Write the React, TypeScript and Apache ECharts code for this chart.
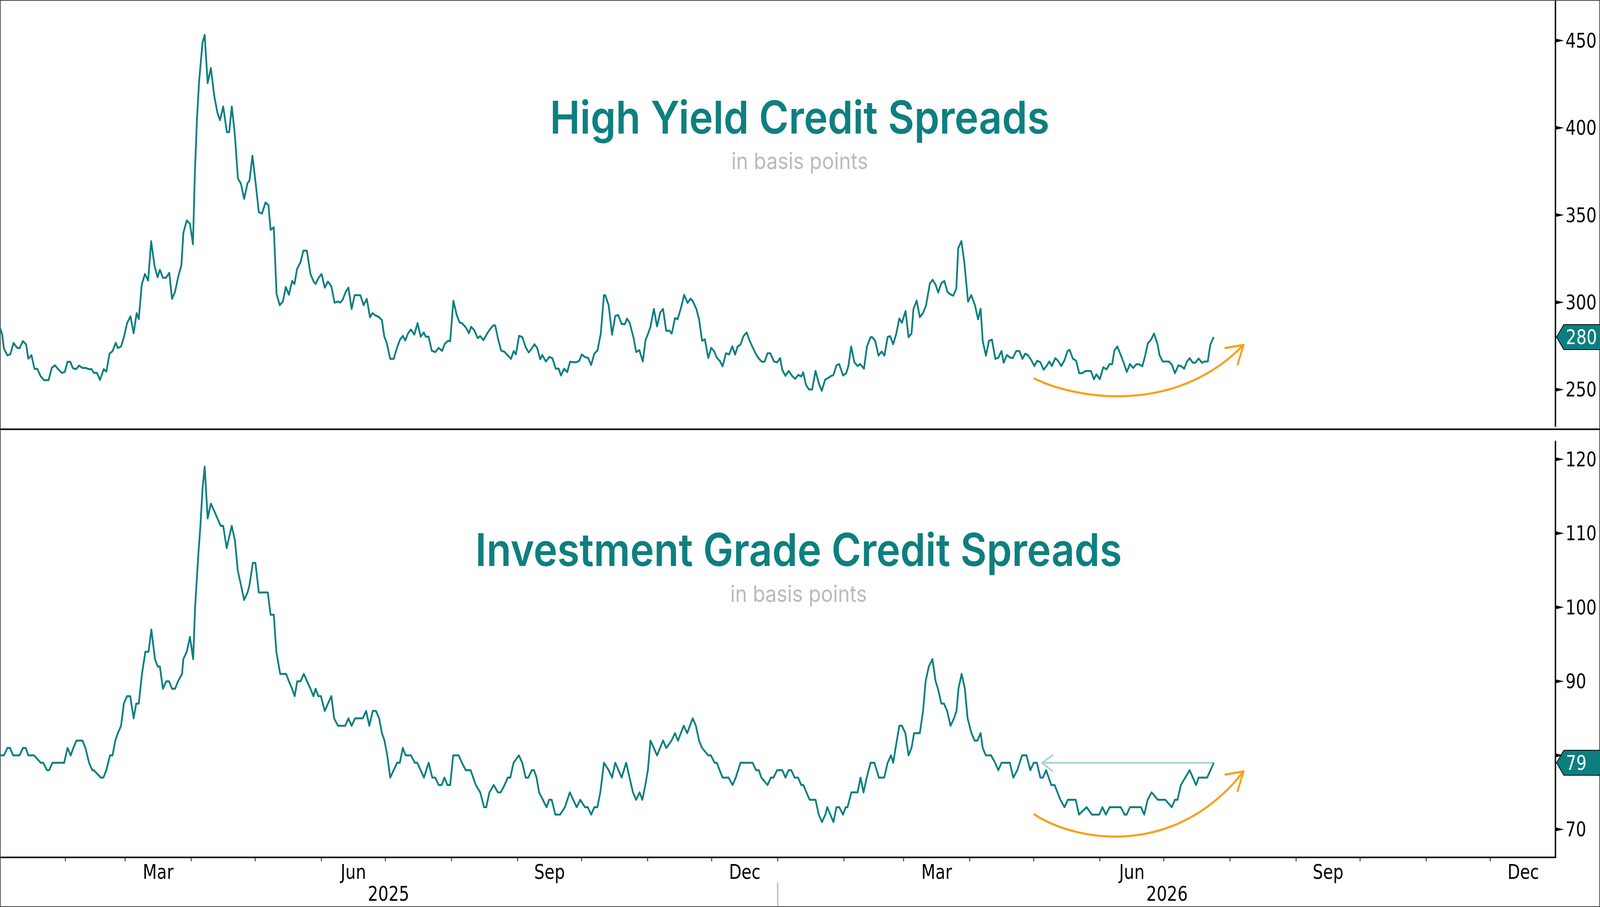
import React, { useEffect, useRef } from "react";
import * as echarts from "echarts";

const T0 = Date.UTC(2025, 0, 1);
const DAY = 86400000;
const REF_W = 4596;
const REF_H = 2322;

// High Yield spreads (day offset from 2025-01-01, value in bp)
const hyDays = [
  0.3, 1.3, 2.2, 3.8, 5.2, 6.7, 8.3, 9.5, 11.1, 12.6, 13.6, 15.1, 16.5, 17.8, 19.4, 21, 23.1, 24.6, 26.1, 27.6,
  29.3, 30.7, 32, 33.3, 34.5, 36, 37.4, 39, 40.6, 42.1, 43.3, 44.3, 45.8, 47.2, 49, 50.2, 51.7, 53.1, 54.6, 55.6,
  57.1, 58.5, 59.9, 61.5, 63, 64.4, 65.4, 66.8, 68.3, 69.8, 71.2, 72.8, 74.2, 75.3, 76.7, 78.2, 79.7, 81, 82.4, 83.8,
  85.4, 86.3, 87.9, 89.4, 90.8, 91.7, 92.7, 93.7, 95.3, 96.3, 97.7, 99.2, 100.8, 102.3, 103.5, 105, 106.7, 107.8, 109, 110.4,
  111.9, 113.3, 114.8, 116.4, 117.3, 118.7, 120.2, 121.7, 123.2, 124.8, 126.2, 127.2, 128.7, 130, 131.5, 133, 134.3, 135.8, 137.3, 138.4,
  139.6, 141.2, 142.6, 144.2, 145.9, 147.4, 148.3, 149.7, 151.1, 152.6, 154.1, 155.7, 157.2, 158.8, 159.8, 161, 162.5, 163.7, 165.2, 166.6,
  168, 169.3, 170.8, 172.3, 173.8, 175, 176.5, 177.9, 179.4, 180.5, 181.6, 183.3, 184.9, 186.5, 187.8, 189.2, 190.3, 191.7, 193, 194.6,
  196.1, 197.6, 199, 200, 201.3, 202.8, 204.4, 206, 207.6, 208.9, 210.5, 211.4, 212.9, 214.5, 215.8, 217, 218.8, 220.2, 221.2, 222.7,
  224.3, 225.5, 227, 228.6, 230, 231.6, 232.5, 233.9, 235.3, 236.8, 238.4, 239.9, 241.2, 242.2, 243.7, 245.2, 246.8, 248.2, 249.7, 250.9,
  252.2, 253.6, 254.6, 256.3, 257.8, 259.3, 260.9, 262.3, 263.3, 264.8, 266.3, 267.6, 269.1, 270.6, 271.9, 273.1, 274.6, 276.1, 277.5, 278.9,
  280.5, 282, 283.5, 284.1, 285.7, 287.3, 288.8, 290.2, 291.8, 293.3, 294.3, 295.6, 297.4, 298.6, 300.1, 301.7, 303, 304.2, 305.3, 306.9,
  308.4, 309.9, 311.2, 312.7, 314.2, 315.3, 316.8, 318, 319.5, 321.1, 322.7, 324.1, 325.1, 326.8, 328.1, 329.5, 330.8, 332.4, 333.8, 335.2,
  336.4, 337.9, 339.1, 340.7, 342.2, 343.7, 345, 346.1, 347.5, 348.9, 350.4, 351.8, 353.2, 354.8, 356.1, 357.5, 358.8, 360.2, 361.5, 363.2,
  364.7, 366.1, 367.1, 368.6, 370.1, 371.7, 373.1, 374.6, 376, 376.9, 378.2, 379.6, 381.1, 382.7, 384.3, 385.6, 387.2, 388.8, 390.1, 391.1,
  392.5, 393.8, 395.6, 397.1, 398.1, 399.4, 400.9, 402.4, 403.6, 405.4, 406.8, 408.5, 409.4, 410.7, 412.2, 413.7, 415, 416.5, 417.7, 419.1,
  420.5, 422, 423.2, 424.9, 426.3, 427.7, 428.6, 430.1, 431.6, 433.1, 434.5, 436.3, 437.6, 439, 440.2, 441.7, 443.1, 444.6, 446, 447.3,
  448.7, 449.6, 451.1, 452.5, 454.2, 455.7, 457.4, 458.9, 460.1, 461.1, 462.6, 464, 465.4, 467, 468.4, 469.9, 470.9, 472.4, 474, 475.2,
  476.8, 478.3, 479.7, 481, 482.2, 483.7, 485.3, 486.6, 488.1, 489.6, 491, 492.3, 493.5, 495.1, 496.4, 497.9, 499.4, 500.9, 501.8, 503.3,
  504.9, 506.3, 507.7, 509, 510.4, 511.9, 513.2, 514.4, 516, 517.6, 519.1, 520.5, 521.8, 522.8, 524.2, 525.8, 527.3, 528.6, 530.1, 531.6,
  533.2, 534.6, 535.9, 537.1, 538.5, 539.9, 541.4, 543, 544, 545.5, 546.7, 548.3, 549.8, 551.2, 552.8, 554.3, 555.5, 556.9, 558.1, 559.6,
  560.8, 562.3, 563.9, 565.1, 566.6, 567.8, 569.4,
];
const hyValues = [
  285.5, 282, 273.4, 269.6, 270.3, 276.7, 274, 273.7, 277.8, 275.8, 267.7, 269.7, 261.9, 261.9, 257.6, 255.4, 255.4, 262.4, 263.9, 261.7,
  259.6, 260.1, 265.9, 265.9, 262.3, 261.7, 263.7, 262.4, 262.4, 261.7, 261.7, 259.6, 259.6, 255.6, 261.7, 260.3, 270.6, 272, 276.8, 273.8,
  274.7, 280.3, 288, 292, 282.3, 293.8, 290.4, 310.2, 316.2, 312.5, 335, 320.9, 314.4, 318.6, 314.1, 314.1, 316.9, 302, 306, 314.1,
  321.5, 339.8, 346.9, 345, 333.3, 374, 405.4, 426.8, 448.9, 453.2, 425.6, 434.2, 418.2, 408.5, 404.4, 412.2, 397.5, 397.5, 412.2, 396.8,
  370.9, 368, 359.3, 368.3, 369.7, 384, 368.3, 351.6, 350.9, 357.2, 355.7, 341.5, 343, 304.8, 298.4, 300.5, 308.8, 304.4, 312.2, 310.5,
  319.1, 322.9, 329.6, 329.6, 316.2, 311.9, 310.5, 314.1, 316.2, 308.4, 311.9, 309.1, 299.8, 300.5, 299.8, 301.5, 306.2, 308.4, 296.2, 304.1,
  304.1, 304.1, 298.4, 302, 291.5, 293.8, 292.4, 291.7, 289.8, 280.5, 277, 267.6, 267.6, 274.1, 278.4, 280.8, 278.1, 282.3, 284.4, 281.5,
  288.1, 280.3, 282.7, 280.3, 280.3, 272.2, 271.5, 273.9, 272.2, 276.3, 278, 277.7, 300.9, 292.6, 288.5, 288, 285.5, 282.3, 286, 284,
  279.5, 280.6, 278.3, 281.8, 284.5, 286.8, 286.8, 278.8, 272.3, 271.7, 269.6, 267.6, 272.1, 270.2, 280.8, 280.1, 274.3, 271.3, 273.6, 276,
  273.8, 267.4, 269.8, 266.1, 268.7, 268, 262, 262, 258.1, 261.9, 260.1, 266, 265.7, 265.7, 266.5, 270.1, 268.7, 268.1, 264.1, 270.4,
  272.6, 282.1, 304.1, 304.1, 298.3, 281.5, 292.2, 292.7, 287.5, 287.5, 290.7, 288.1, 279.5, 271.5, 272.6, 266.1, 278.4, 282.1, 285.9, 296.2,
  286.2, 294.2, 296.2, 283.6, 283.8, 282.1, 291, 290.3, 296.3, 304.3, 299.7, 302.1, 300.8, 296.3, 290.3, 278, 278.8, 268.1, 273.9, 271.9,
  268.3, 266.3, 263.3, 270.8, 270.2, 274.8, 270.1, 274.5, 275.8, 280.6, 282.7, 278, 274.3, 270.2, 267.8, 266, 266, 270.8, 270.8, 266.1,
  265.6, 268.1, 261.3, 257.9, 260.7, 257.9, 256.2, 258.4, 257.5, 259.9, 252.7, 250.1, 250.1, 260.7, 253.4, 249.3, 255.7, 256.8, 257.9, 258.3,
  263.9, 264.6, 258.1, 259.4, 263.5, 274.7, 265.7, 263.5, 264.6, 262, 274.7, 280.1, 279.9, 277.8, 269.5, 271.8, 269.5, 280.1, 280.6, 276,
  281.8, 290.7, 288.3, 295, 280.1, 282.1, 296.1, 301, 291.5, 293.9, 298.2, 310.8, 312.9, 310.1, 305.6, 311, 312.2, 305.9, 304.5, 303.8,
  307.9, 331, 335.1, 322.4, 300.4, 304.1, 298.5, 290.3, 296.3, 277.7, 269.5, 278, 278.6, 267.6, 268.3, 272.1, 265.4, 269.8, 268.3, 268.1,
  272.1, 272.1, 267.6, 270.6, 269.8, 267.2, 263.5, 266.5, 265.7, 261.4, 263.5, 266.1, 263.5, 268, 266.5, 263.5, 266.8, 272.1, 272.8, 267.8,
  266.5, 259.4, 259.4, 260.5, 260.7, 260.5, 256, 258.7, 256, 262.8, 261.6, 264.6, 264.6, 272.4, 274.7, 269.8, 265, 260.1, 264.6, 262.4,
  264.6, 264.4, 263.3, 268.7, 276.5, 278.4, 282.1, 276.2, 269.6, 266.1, 266.1, 266.1, 264.2, 259.4, 263.9, 263.3, 262, 266.1, 268, 265.4,
  265.4, 267.8, 265.4, 266.1, 266.1, 275.8, 280.1,
];

// Investment Grade spreads (day offset from 2025-01-01, value in bp)
const igDays = [
  0.3, 2.2, 3.8, 5, 6.5, 9.5, 11.1, 12.4, 13.6, 16.3, 19.4, 20.6, 22.4, 23.4, 24.9, 30.4, 32, 33.5, 34.7, 36.2,
  39, 40.4, 42.1, 43.6, 44.3, 47.6, 48.8, 50.2, 51.9, 53.1, 54.4, 55.6, 57.1, 58.4, 59.9, 61.4, 63, 64.2, 65.4, 66.9,
  68.5, 70, 71.3, 73, 74.3, 75.3, 76.7, 78.3, 79.6, 81, 82.4, 83.8, 85.7, 86.3, 87.9, 89.4, 90.9, 91.8, 93.3, 94.3,
  95.3, 96.3, 97.7, 99.2, 100.8, 102.3, 103.8, 105, 106.6, 109, 110.5, 111.8, 113.3, 114.8, 116.4, 117.3, 118.9, 120.1, 121.7, 125.9,
  127.2, 128.7, 129.9, 131.7, 134.5, 135.8, 137.3, 138.5, 139.7, 141.2, 142.8, 144.3, 145.9, 147.3, 148.3, 149.6, 150.8, 152.6, 154.1, 155.7,
  157, 158.8, 162.2, 163.7, 165.2, 166.8, 170.4, 172, 173.5, 175.1, 176.6, 178.1, 179.4, 180.6, 181.9, 183.3, 184.9, 186.5, 187.8, 189.2,
  190.5, 193, 194.8, 196, 199.1, 201.3, 203, 204.4, 206, 207.4, 208.7, 210.1, 211.4, 212.8, 215.4, 216.9, 218.7, 221, 223.4, 225.5,
  227.3, 228.3, 229.8, 231.8, 233.8, 235.1, 236.9, 238.4, 239.6, 241.1, 243.6, 245.2, 246.8, 248, 249.7, 250.7, 251.9, 253.1, 256.6, 257.8,
  259, 260.7, 262.9, 265.2, 267.5, 270.7, 272.4, 274.6, 275.9, 277.5, 279, 280.4, 281.8, 283.5, 285.7, 287.3, 288.8, 291.8, 293.9, 295.5,
  297.1, 298.6, 300.2, 301.5, 302.9, 304.1, 305.3, 306.9, 308.4, 311.2, 312.7, 315.2, 316.8, 318.2, 320.9, 322.5, 323.8, 325.1, 326.6, 328.1,
  329.5, 332.4, 333.6, 335.4, 336.4, 339.1, 341.9, 343.8, 345.3, 347.5, 353.2, 354.8, 356.1, 357.3, 360.2, 361.8, 363, 364.7, 367.1, 368.6,
  370.1, 371.3, 372.9, 374.5, 376, 377, 379.9, 382.7, 384.2, 385.7, 387.3, 388.2, 391.1, 392.5, 393.8, 395.6, 396.8, 397.7, 399.5, 402.4,
  403.8, 405.2, 406.7, 408.5, 410.3, 412.4, 414.9, 416.5, 418.1, 419.1, 420.8, 422, 423.2, 424.8, 426.3, 427.7, 428.9, 431.6, 433.1, 434.3,
  435.8, 437.5, 439, 440.1, 441.7, 442.9, 444.4, 446, 447.6, 448.8, 449.7, 451.2, 452.7, 454, 455.8, 457.3, 458.6, 460.1, 461.1, 462.5,
  465, 466.9, 468.4, 469.9, 473.8, 475.4, 477.3, 479.5, 481.6, 483.4, 485, 486.5, 488.1, 489.3, 490.8, 492, 493.2, 494.8, 497.5, 499.4,
  501, 504.7, 506.2, 509.8, 512.3, 515.7, 517.2, 518.8, 520.6, 525.8, 527.6, 528.6, 530.1, 535.3, 536.8, 538.4, 540.3, 543.2, 546.7, 549.7,
  551.2, 552.4, 554, 558.1, 561.1, 562.3, 566.3, 567.9, 569.4,
];
const igValues = [
  80, 80, 81, 81, 80, 80, 81, 81, 80, 80, 79, 79, 78, 78, 79, 79, 81, 80, 81, 82,
  82, 81, 79, 78, 78, 77, 77, 78, 80, 80, 82, 83, 84, 87, 88, 88, 85, 87, 87, 91,
  94, 94, 97, 93, 92, 92, 89, 90, 90, 89, 89, 90, 91, 93, 94, 96, 93, 100, 107, 111,
  116, 119, 112, 114, 113, 112, 111, 111, 108, 111, 109, 105, 103, 101, 102, 103, 106, 106, 102, 102,
  99, 99, 94, 91, 91, 90, 89, 88, 90, 90, 91, 90, 89, 88, 89, 88, 88, 86, 87, 88,
  85, 84, 84, 85, 84, 85, 85, 86, 84, 86, 86, 85, 83, 82, 80, 77, 78, 79, 79, 81,
  80, 80, 79, 79, 77, 79, 77, 77, 76, 76, 77, 76, 76, 80, 80, 79, 78, 78, 76, 75,
  73, 73, 75, 76, 75, 75, 76, 77, 77, 79, 80, 79, 77, 77, 78, 78, 77, 75, 73, 74,
  74, 72, 72, 73, 75, 73, 74, 73, 73, 72, 73, 73, 75, 79, 78, 77, 79, 77, 79, 77,
  75, 74, 75, 74, 76, 78, 82, 81, 80, 82, 81, 82, 83, 82, 84, 83, 84, 85, 84, 82,
  81, 80, 80, 79, 79, 77, 77, 76, 77, 79, 79, 78, 78, 77, 76, 77, 77, 78, 78, 77,
  78, 78, 77, 77, 76, 76, 74, 74, 72, 71, 72, 73, 71, 73, 73, 72, 73, 73, 75, 75,
  77, 75, 77, 79, 79, 77, 77, 79, 80, 79, 82, 84, 84, 83, 80, 81, 83, 83, 86, 90,
  92, 93, 90, 89, 87, 87, 86, 84, 85, 86, 89, 91, 89, 85, 83, 82, 82, 83, 81, 80,
  80, 79, 78, 79, 79, 77, 78, 80, 80, 78, 79, 79, 77, 77, 78, 77, 76, 76, 74, 73,
  74, 74, 72, 73, 72, 72, 73, 72, 73, 73, 72, 72, 73, 73, 72, 74, 75, 74, 74, 73,
  74, 74, 76, 78, 76, 77, 77, 78, 79,
];

const monthNames = ["Jan", "Feb", "Mar", "Apr", "May", "Jun", "Jul", "Aug", "Sep", "Oct", "Nov", "Dec"];
const labeledMonths = [2, 5, 8, 11];
const years = [2025, 2026];
const hyTicks = [250, 300, 350, 400, 450];
const igTicks = [70, 80, 90, 100, 110, 120];
const igLabels = [70, 90, 100, 110, 120];

const TEAL = "#0b7f80";
const ORANGE = "#f7a11c";
const AXIS_FONT = "'DejaVu Sans Condensed', 'DejaVu Sans', sans-serif";
const TITLE_FONT = "Inter, 'Open Sans', sans-serif";

export default function App() {
  const ref = useRef<HTMLDivElement>(null);
  const vw = typeof window !== "undefined" ? window.innerWidth || REF_W : REF_W;
  const vh = typeof window !== "undefined" ? window.innerHeight || REF_H : REF_H;
  const sx = vw / REF_W;
  const sy = vh / REF_H;

  useEffect(() => {
    document.body.style.margin = "0";
    document.body.style.overflow = "hidden";
    if (!ref.current) return;
    const chart = echarts.init(ref.current, undefined, { renderer: "svg", width: REF_W, height: REF_H });
    const xMin = T0 + 0.34 * DAY;
    const xMax = T0 + 729.6 * DAY;
    const hyData = hyDays.map((d, i) => [T0 + d * DAY, hyValues[i]]);
    const igData = igDays.map((d, i) => [T0 + d * DAY, igValues[i]]);
    const labelStyle = { color: "#000", fontSize: 52, fontFamily: AXIS_FONT };

    chart.setOption({
      animation: false,
      backgroundColor: "#fff",
      grid: [
        { left: 0, right: 128, top: 0, height: 1091 },
        { left: 0, right: 128, top: 1130, height: 1065 },
      ],
      xAxis: [
        { type: "time", gridIndex: 0, min: xMin, max: xMax, show: false },
        {
          type: "time",
          gridIndex: 1,
          min: xMin,
          max: xMax,
          position: "bottom",
          axisLine: { show: true, lineStyle: { color: "#000", width: 4 } },
          axisTick: { show: false },
          axisLabel: { show: false },
          splitLine: { show: false },
        },
      ],
      yAxis: [
        {
          type: "value",
          gridIndex: 0,
          position: "right",
          min: 229.05,
          max: 473.23,
          axisLine: { show: true, lineStyle: { color: "#000", width: 4 } },
          axisTick: { show: false },
          splitLine: { show: false },
          axisLabel: { show: true, customValues: hyTicks, margin: 29, ...labelStyle },
        },
        {
          type: "value",
          gridIndex: 1,
          position: "right",
          min: 66.22,
          max: 122.41,
          axisLine: { show: true, lineStyle: { color: "#000", width: 4 } },
          axisTick: { show: false },
          splitLine: { show: false },
          axisLabel: { show: true, customValues: igLabels, margin: 29, ...labelStyle },
        },
      ],
      series: [
        {
          type: "line",
          name: "High Yield",
          xAxisIndex: 0,
          yAxisIndex: 0,
          data: hyData,
          showSymbol: false,
          symbol: "none",
          lineStyle: { color: TEAL, width: 5, join: "round" },
          z: 5,
        },
        {
          type: "line",
          name: "Investment Grade",
          xAxisIndex: 1,
          yAxisIndex: 1,
          data: igData,
          showSymbol: false,
          symbol: "none",
          lineStyle: { color: TEAL, width: 5, join: "round" },
          z: 5,
        },
      ],
    });

    const axisX = 4468;
    const axisY = 2195;
    const gfx: any[] = [];
    const xPix = (t: number) => chart.convertToPixel({ xAxisIndex: 1 }, t) as number;

    // outer frame and panel divider
    gfx.push({ type: "rect", z: 1, shape: { x: 1, y: 1, width: 4594, height: 2320 }, style: { fill: "none", stroke: "#444", lineWidth: 2 } });
    gfx.push({ type: "line", z: 10, shape: { x1: 0, y1: 1099, x2: 4596, y2: 1099 }, style: { stroke: "#000", lineWidth: 4 } });

    // month ticks, month labels, year labels, year separator
    years.forEach((y) => {
      for (let m = 0; m < 12; m++) {
        const t = Date.UTC(y, m, 1);
        if (t > xMin && t < xMax) {
          const x = xPix(t);
          gfx.push({ type: "line", z: 10, shape: { x1: x, y1: axisY, x2: x, y2: axisY + 10 }, style: { stroke: "#000", lineWidth: 2 } });
        }
      }
      labeledMonths.forEach((m) => {
        const mid = (Date.UTC(y, m, 1) + Date.UTC(y, m + 1, 1)) / 2;
        gfx.push({
          type: "text",
          z: 10,
          x: xPix(mid),
          y: 2232,
          style: { text: monthNames[m], fill: "#000", fontSize: 52, fontFamily: AXIS_FONT, align: "center", verticalAlign: "middle" },
        });
      });
      const ymid = (Date.UTC(y, 0, 1) + Date.UTC(y + 1, 0, 1)) / 2;
      gfx.push({
        type: "text",
        z: 10,
        x: xPix(ymid),
        y: 2288,
        style: { text: String(y), fill: "#000", fontSize: 52, fontFamily: AXIS_FONT, align: "center", verticalAlign: "middle" },
      });
    });
    const sepX = xPix(Date.UTC(2026, 0, 1));
    gfx.push({ type: "line", z: 10, shape: { x1: sepX, y1: 2259, x2: sepX, y2: 2322 }, style: { stroke: "#888", lineWidth: 2 } });

    // titles
    const titleStyle = { fill: "#0e7f7f", fontSize: 116, fontWeight: 600, fontFamily: TITLE_FONT, align: "center", verticalAlign: "middle" };
    const subStyle = { fill: "#bababa", fontSize: 58, fontWeight: 400, fontFamily: TITLE_FONT, align: "center", verticalAlign: "middle" };
    gfx.push({ type: "text", z: 10, x: 2297, y: 300, style: { ...titleStyle, text: "High Yield Credit Spreads" } });
    gfx.push({ type: "text", z: 10, x: 2297, y: 412, style: { ...subStyle, text: "in basis points" } });
    gfx.push({ type: "text", z: 10, x: 2294, y: 1407, style: { ...titleStyle, text: "Investment Grade Credit Spreads" } });
    gfx.push({ type: "text", z: 10, x: 2294, y: 1520, style: { ...subStyle, text: "in basis points" } });

    // triangular tick markers on the right axes
    const tri = (y: number) => ({
      type: "polygon",
      z: 20,
      shape: { points: [[axisX, y - 5], [axisX + 25, y], [axisX, y + 5]] },
      style: { fill: "#000" },
    });
    hyTicks.forEach((v) => gfx.push(tri(chart.convertToPixel({ yAxisIndex: 0 }, v) as number)));
    igTicks.forEach((v) => gfx.push(tri(chart.convertToPixel({ yAxisIndex: 1 }, v) as number)));

    // last value flags
    const flag = (y: number, label: string) => {
      gfx.push({
        type: "polygon",
        z: 30,
        shape: { points: [[axisX + 3, y], [axisX + 24, y - 32], [4600, y - 32], [4600, y + 32], [axisX + 24, y + 32]] },
        style: { fill: TEAL, stroke: "#000", lineWidth: 2 },
      });
      gfx.push({
        type: "text",
        z: 31,
        x: axisX + 30,
        y: y,
        style: { text: label, fill: "#fff", fontSize: 52, fontFamily: AXIS_FONT, align: "left", verticalAlign: "middle" },
      });
    };
    const hyLast = hyData[hyData.length - 1];
    const igLast = igData[igData.length - 1];
    const hyLastPx = chart.convertToPixel({ xAxisIndex: 0, yAxisIndex: 0 }, hyLast) as number[];
    const igLastPx = chart.convertToPixel({ xAxisIndex: 1, yAxisIndex: 1 }, igLast) as number[];
    flag(hyLastPx[1], String(Math.round(hyLast[1] as number)));
    flag(igLastPx[1], String(Math.round(igLast[1] as number)));

    // light teal reference arrow at the latest IG level
    const refStart = chart.convertToPixel({ xAxisIndex: 1, yAxisIndex: 1 }, [T0 + 488.9 * DAY, igLast[1]]) as number[];
    gfx.push({ type: "line", z: 4, shape: { x1: refStart[0], y1: refStart[1], x2: igLastPx[0], y2: igLastPx[1] }, style: { stroke: "#a9d3d2", lineWidth: 4.5 } });
    gfx.push({
      type: "polyline",
      z: 4,
      shape: { points: [[refStart[0] + 32, refStart[1] - 21], [refStart[0], refStart[1]], [refStart[0] + 32, refStart[1] + 23]] },
      style: { stroke: "#a9d3d2", lineWidth: 4.5, fill: "none" },
    });

    // orange curved arrows
    const curve = (y0: number, dy: number, deep: number) => {
      gfx.push({
        type: "bezierCurve",
        z: 6,
        shape: { x1: 2971, y1: y0, cpx1: 3100, cpy1: y0 + 56 + deep, cpx2: 3380, cpy2: y0 + 91 + deep, x2: 3572, y2: y0 + dy },
        style: { stroke: ORANGE, lineWidth: 5.5, fill: "none", lineCap: "round" },
      });
      gfx.push({
        type: "polyline",
        z: 6,
        shape: { points: [[3520, y0 + dy + 8], [3572, y0 + dy], [3555, y0 + dy + 50]] },
        style: { stroke: ORANGE, lineWidth: 5.5, fill: "none", lineCap: "round", lineJoin: "round" },
      });
    };
    curve(969, -86, 0);
    curve(2085, -110, 18);

    chart.setOption({ graphic: gfx });

    return () => chart.dispose();
  }, []);

  return (
    <div style={{ width: vw, height: vh, overflow: "hidden", position: "relative" }}>
      <div
        ref={ref}
        style={{
          width: REF_W,
          height: REF_H,
          transform: `scale(${sx}, ${sy})`,
          transformOrigin: "0 0",
        }}
      />
    </div>
  );
}
